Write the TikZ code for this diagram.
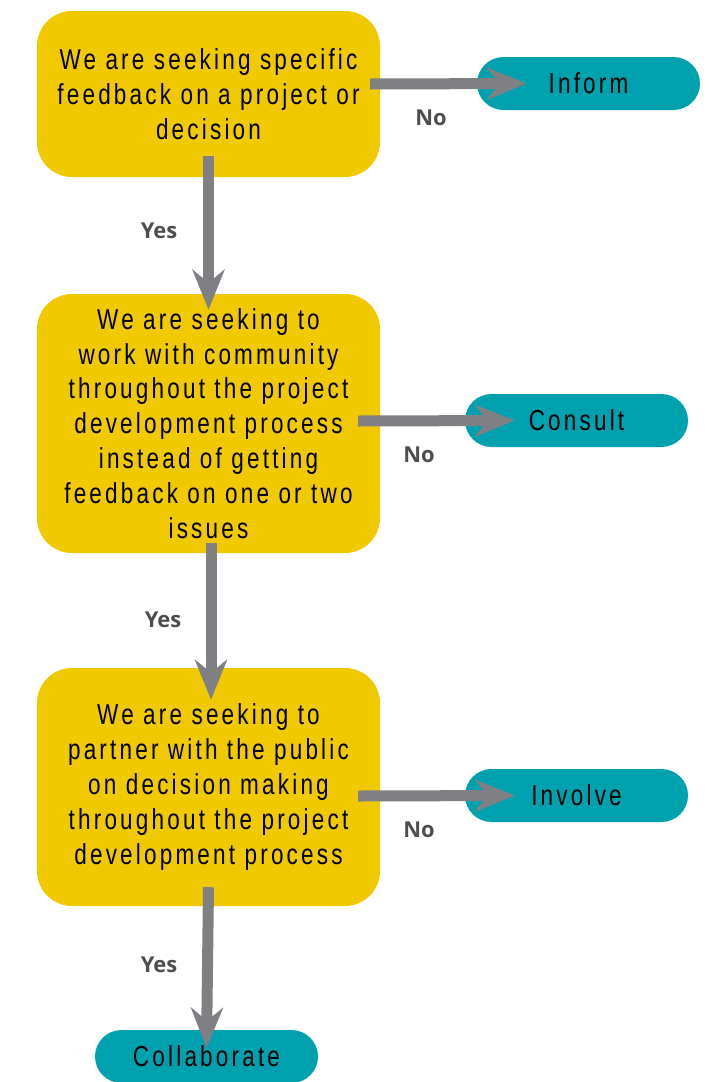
\documentclass[tikz,border=0pt]{standalone}
\usepackage{fontspec}
\setmainfont{Liberation Sans}
\newfontfamily\condfont[FakeStretch=0.78,LetterSpace=11]{Liberation Sans}
\newfontfamily\labfont{Open Sans}
\usetikzlibrary{arrows.meta,calc}
\definecolor{boxyellow}{HTML}{F0C900}
\definecolor{pillteal}{HTML}{00A1AF}
\definecolor{arrowgray}{HTML}{808084}
\definecolor{labgray}{HTML}{4D4D4F}
\tikzset{
  question/.style={rectangle, fill=boxyellow, rounded corners=35bp, minimum width=343bp,
    align=center, inner sep=0pt, font=\condfont\fontsize{29}{35}\selectfont},
  outcome/.style={rectangle, fill=pillteal, rounded corners=26.5bp, minimum width=223bp,
    minimum height=53bp, inner sep=0pt, font=\condfont\fontsize{29}{35}\selectfont},
  flow/.style={draw=arrowgray, line width=11bp,
    -{Stealth[length=40bp 0, width=32bp 0, inset=13bp 0]}},
  answer/.style={text=labgray, font=\labfont\bfseries\fontsize{22}{26}\selectfont, inner sep=0pt}
}
\begin{document}
\begin{tikzpicture}[x=1bp,y=-1bp]
\useasboundingbox (0,0) rectangle (709,1082);
\node[question, minimum height=166bp] (q1) at (208.5,94)
  {We are seeking specific\\feedback on a project or\\decision};
\node[question, minimum height=259bp] (q2) at (208.5,423.5)
  {We are seeking to\\work with community\\throughout the project\\development process\\instead of getting\\feedback on one or two\\issues};
\node[question, minimum height=238bp] (q3) at (208.5,787)
  {We are seeking to\\partner with the public\\on decision making\\throughout the project\\development process};
\node[outcome] (inform) at (588.5,83.5) {Inform};
\node[outcome] (consult) at (576.5,420.5) {Consult};
\node[outcome] (involve) at (576.5,795.5) {Involve};
\node[outcome] (collab) at (206.5,1056.5) {Collaborate};

\draw[flow] ($(q1.south)+(0,-21)$) -- ($(q2.north)+(0,16)$);
\draw[flow] ($(q2.south)+(2.5,-10)$) -- ($(q3.north)+(2.5,32)$);
\draw[flow] ($(q3.south)+(0,-19)$) -- ($(collab.north)+(0,18)$);
\draw[flow] ($(q1.east)+(-10,-10)$) -- ($(inform.west)+(50,0)$);
\draw[flow] ($(q2.east)+(-22,-2.5)$) -- ($(consult.west)+(50,0)$);
\draw[flow] ($(q3.east)+(-22,9)$) -- ($(involve.west)+(50,0)$);

\node[answer] (yes1) at (159,231) {Yes};
\node[answer] (yes2) at (163,620) {Yes};
\node[answer] (yes3) at (159,965) {Yes};
\node[answer] (no1) at (431,118) {No};
\node[answer] (no2) at (419,455) {No};
\node[answer] (no3) at (419,830) {No};
\end{tikzpicture}
\end{document}
